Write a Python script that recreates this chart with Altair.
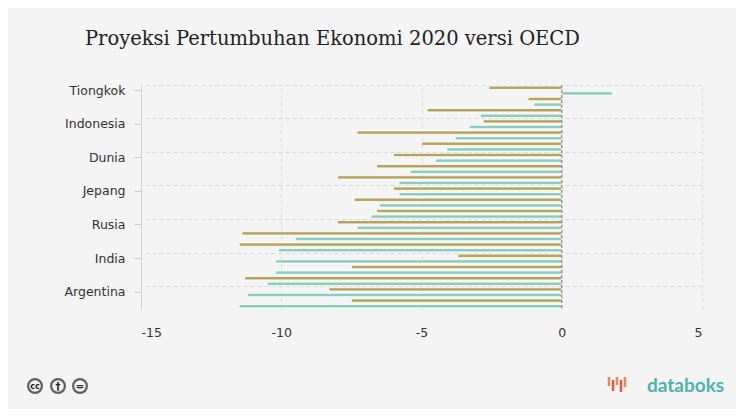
import altair as alt
import pandas as pd

countries = ["Tiongkok", "Korea Selatan", "Turki", "Indonesia", "Amerika Serikat",
             "Australia", "Dunia", "Jerman", "Kanada", "Jepang", "Brasil",
             "Arab Saudi", "Rusia", "Prancis", "Inggris", "India", "Meksiko",
             "Italia", "Argentina", "Afrika Selatan"]
june = [-2.6, -1.2, -4.8, -2.8, -7.3, -5.0, -6.0, -6.6, -8.0, -6.0, -7.4, -6.6,
        -8.0, -11.4, -11.5, -3.7, -7.5, -11.3, -8.3, -7.5]
sept = [1.8, -1.0, -2.9, -3.3, -3.8, -4.1, -4.5, -5.4, -5.8, -5.8, -6.5, -6.8,
        -7.3, -9.5, -10.1, -10.2, -10.2, -10.5, -11.2, -11.5]
series = ["Proyeksi Juni 2020", "Proyeksi September 2020"]
colors = ["#b3a35e", "#8ccbbd"]
labeled = countries[::3]
x_ticks = [-15, -10, -5, 0, 5]

rows = []
for c, j, s in zip(countries, june, sept):
    rows.append({"negara": c, "seri": series[0], "nilai": j})
    rows.append({"negara": c, "seri": series[1], "nilai": s})
df = pd.DataFrame(rows)

GRID = "#d9d9d9"
x_enc = alt.X("nilai:Q", scale=alt.Scale(domain=[-15, 5], nice=False, zero=False),
              axis=alt.Axis(values=x_ticks, title=None, grid=True, gridColor=GRID,
                            gridDash=[4, 3], domain=False, ticks=False,
                            labelExpr="'' + datum.value",
                            labelPadding=17, labelFont="DejaVu Sans",
                            labelFontSize=12.5, labelColor="#333333"))
y_scale = alt.Scale(domain=countries, paddingInner=0, paddingOuter=0)
yoff = alt.YOffset("seri:N", sort=series,
                   scale=alt.Scale(domain=series, paddingInner=0.4, paddingOuter=0.2))
color = alt.Color("seri:N", scale=alt.Scale(domain=series, range=colors), legend=None)

base = alt.Chart(df)

grid_layer = base.mark_bar(opacity=0).encode(
    x=x_enc,
    y=alt.Y("negara:N", sort=countries, scale=y_scale,
            axis=alt.Axis(values=labeled, orient="right", bandPosition=0, grid=True,
                          gridColor=GRID, gridDash=[4, 3], labels=False, ticks=False,
                          domain=False, title=None)),
    yOffset=yoff,
)

bars = base.mark_bar(stroke="#ffffff", strokeWidth=0.8).encode(
    x=x_enc,
    y=alt.Y("negara:N", sort=countries, scale=y_scale,
            axis=alt.Axis(values=labeled, orient="left", grid=False, tickSize=7,
                          tickColor="#cccccc", domainColor="#d0d0d0", labelPadding=9,
                          labelFont="DejaVu Sans", labelFontSize=12.5,
                          labelColor="#333333", title=None)),
    yOffset=yoff,
    color=color,
    tooltip=["negara:N", "seri:N", "nilai:Q"],
)

zero = alt.Chart(alt.Data(values=[{"v": 0}])).mark_rule(
    color="#777777", strokeDash=[3, 2], strokeWidth=1
).encode(x=alt.X("v:Q"))

one = alt.Data(values=[{"a": 1}])
# footer decorations (positions relative to plot origin at 141, 85)
cc_x = [-106, -83, -61]
cc_txt = ["cc", "\u2020", "="]
deco = []
for px, t in zip(cc_x, cc_txt):
    deco.append(alt.Chart(one).mark_point(shape="circle", size=190, filled=False,
                                          stroke="#222222", strokeWidth=2.2)
                .encode(x=alt.value(px), y=alt.value(301)))
    deco.append(alt.Chart(one).mark_text(text=t, font="DejaVu Sans", fontWeight="bold",
                                         fontSize=8 if t == "cc" else 10, color="#222222",
                                         baseline="middle", align="center")
                .encode(x=alt.value(px), y=alt.value(301.5)))

logo_bars = [(-16, 292, 301, "#e9894e"), (-12, 295, 306, "#e05a4a"),
             (-8, 292, 300, "#e9894e"), (-4, 295, 307, "#e05a4a"),
             (0, 292, 302, "#e9894e")]
for px, y1, y2, col in logo_bars:
    deco.append(alt.Chart(one).mark_rule(color=col, strokeWidth=2.5)
                .encode(x=alt.value(px + 625 - 141), y=alt.value(y1), y2=alt.value(y2)))
deco.append(alt.Chart(one).mark_text(text="databoks", font="Lato", fontSize=19,
                                     fontWeight="bold", color="#4fb3ad", align="left",
                                     baseline="alphabetic")
            .encode(x=alt.value(647 - 141), y=alt.value(307)))

chart = alt.layer(grid_layer, bars, zero, *deco).resolve_axis(y="independent").properties(
    width=561,
    height=224,
    autosize=alt.AutoSizeParams(type="none"),
    padding={"left": 133, "top": 77, "right": 34, "bottom": 100},
    background="#f4f4f4",
    title=alt.TitleParams("Proyeksi Pertumbuhan Ekonomi 2020 versi OECD",
                          anchor="start", frame="group", dx=-56, offset=35,
                          font="DejaVu Serif", fontSize=19.5, fontWeight="normal",
                          color="#222222"),
).configure_view(stroke=None)

chart.save("out.html", embed_options={"renderer": "svg", "actions": False})
